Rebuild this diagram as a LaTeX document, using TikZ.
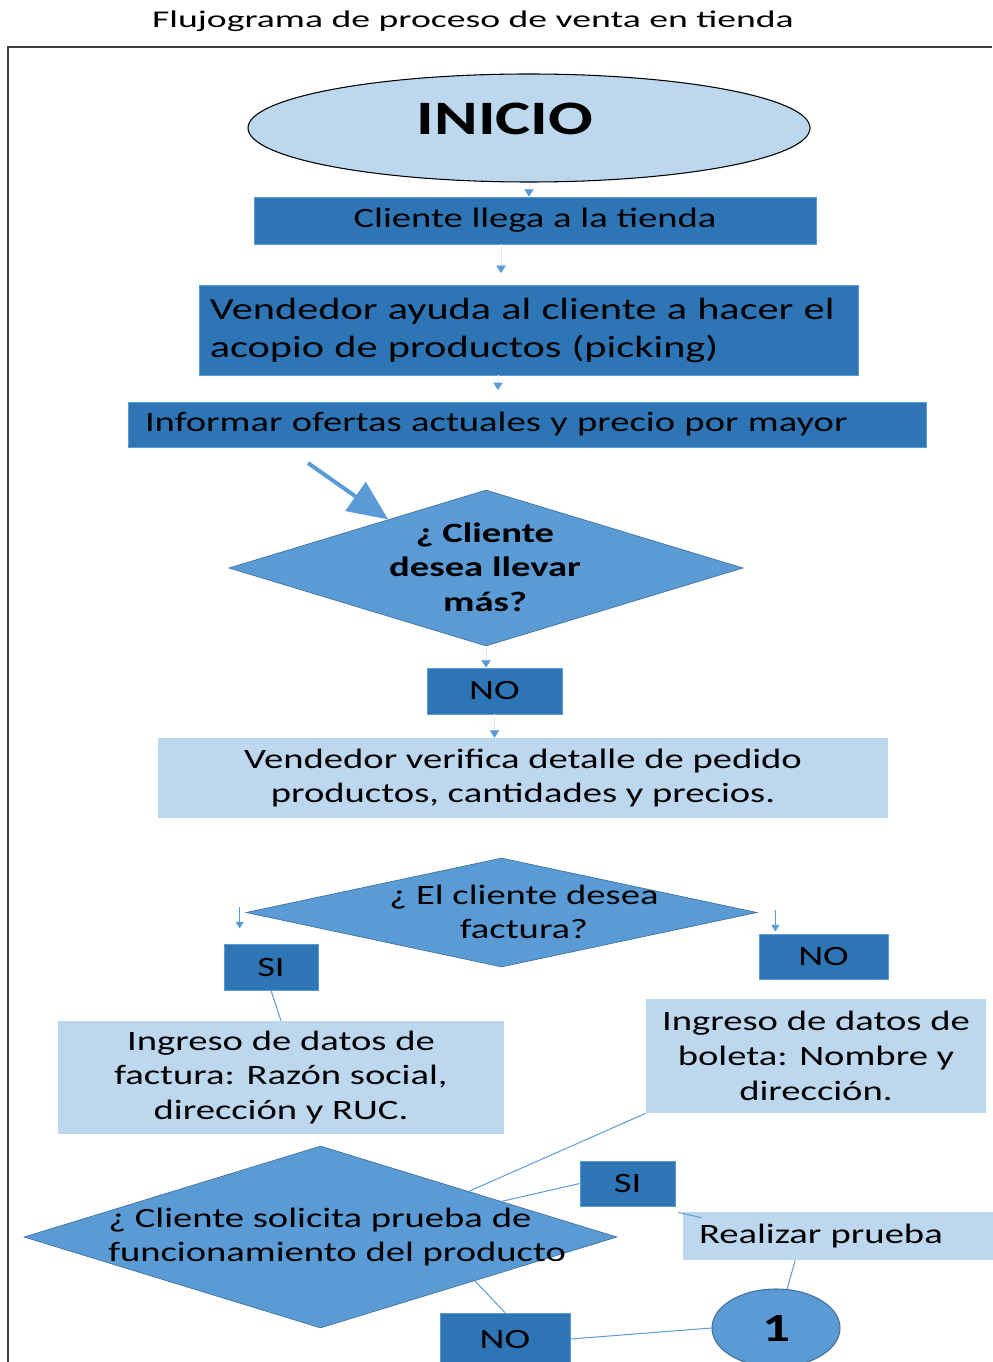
\documentclass[tikz,border=0pt]{standalone}
\usepackage{fontspec}
\setmainfont[FakeStretch=1.38]{Carlito}
\newfontfamily\titlefont[FakeStretch=1.57]{Carlito}
\usepackage{tikz}
\usetikzlibrary{positioning, arrows.meta, shapes.geometric, calc}
\definecolor{boxDark}{RGB}{46,117,182}
\definecolor{boxMid}{RGB}{91,155,213}
\definecolor{boxLight}{RGB}{189,215,238}
\definecolor{edgeDark}{RGB}{65,113,156}
\definecolor{frameGray}{RGB}{64,64,64}

\begin{document}
\begin{tikzpicture}[x=0.75pt, y=-0.75pt,
  dark/.style={rectangle, fill=boxDark, draw=boxMid, line width=0.6pt, inner sep=0pt,
    font=\fontsize{21}{26}\selectfont},
  light/.style={rectangle, fill=boxLight, draw=none, inner sep=0pt, align=center,
    font=\fontsize{21}{26}\selectfont},
  dia/.style={diamond, fill=boxMid, draw=edgeDark, line width=0.5pt, inner sep=0pt},
  txt/.style={inner sep=0pt, align=center, font=\fontsize{21}{26}\selectfont},
  conn/.style={draw=boxMid, line width=0.75pt},
  arrowln/.style={draw=boxMid!20, line width=0.5pt,
    -{Triangle[color=boxMid, width=7pt, length=5.5pt]}},
  arrowvis/.style={draw=boxMid, line width=0.75pt,
    -{Triangle[color=boxMid, width=6pt, length=5pt]}},
  bigarrow/.style={draw=boxMid, line width=3pt,
    -{Triangle[width=26pt, length=30pt]}},
]
  \useasboundingbox (0,0) rectangle (992,1362);

  % title and frame
  \node[font=\titlefont\fontsize{18}{22}\selectfont, anchor=base] (title) at (473,27.5)
    {Flujograma de proceso de venta en tienda};
  \draw[frameGray, line width=1.5pt] (992,47) -- (8,47) -- (8,1362);

  % upper part
  \node[ellipse, fill=boxLight, draw=black, line width=0.8pt, inner sep=0pt,
    minimum width=421.5pt, minimum height=81pt] (inicio) at (529,128) {};
  \node[font=\bfseries\fontsize{36}{40}\selectfont, inner sep=0pt] (inicioTxt) at (505,119) {INICIO};
  \node[dark, minimum width=421.5pt, minimum height=35.25pt] (cli) at (535,220.5)
    {Cliente llega a la tienda};
  \node[dark, align=left, text width=478pt, inner xsep=8.1pt, minimum height=67.5pt,
    font=\fontsize{23}{28.5}\selectfont] (ayu) at (528.5,330)
    {Vendedor ayuda al cliente a hacer el\\acopio de productos (picking)};
  \node[dark, align=left, text width=573pt, inner xsep=12.75pt, minimum height=33.75pt] (inf)
    at (527,424.5) {Informar ofertas actuales y precio por mayor};

  \node[dia, minimum width=385.5pt, minimum height=117pt] (d1) at (486,568) {};
  \node[txt, font=\bfseries\fontsize{21}{26}\selectfont] (d1Txt) at (485,567)
    {¿ Cliente\\desea llevar\\más?};
  \node[dark, minimum width=101.25pt, minimum height=34.5pt] (no1) at (494.5,691) {NO};
  \node[light, minimum width=547.5pt, minimum height=60pt] (ver) at (523,778)
    {Vendedor verifica detalle de pedido\\productos, cantidades y precios.};

  % factura / boleta
  \node[dia, minimum width=383.25pt, minimum height=81.75pt] (d2) at (501.5,912.5) {};
  \node[txt] (d2Txt) at (524,912) {¿ El cliente desea\\factura?};
  \node[dark, minimum width=70.5pt, minimum height=34.5pt] (si1) at (271,967) {SI};
  \node[dark, minimum width=96.75pt, minimum height=33.75pt] (no2) at (823.5,956.5) {NO};
  \node[light, minimum width=334.5pt, minimum height=84.75pt] (fac) at (281,1077.5)
    {Ingreso de datos de\\factura: Razón social,\\dirección y RUC.};
  \node[light, minimum width=255pt, minimum height=85.5pt] (bol) at (816,1056)
    {Ingreso de datos de\\boleta: Nombre y\\dirección.};

  % prueba
  \node[dia, minimum width=444.75pt, minimum height=136.5pt] (d3) at (320.5,1237) {};
  \node[txt, align=left, anchor=west] (d3Txt) at (108,1237)
    {¿ Cliente solicita prueba de\\funcionamiento del producto};
  \node[dark, minimum width=71.25pt, minimum height=33.75pt] (si2) at (627.5,1183.5) {SI};
  \node[light, align=left, text width=210pt, inner xsep=12pt, minimum height=36pt] (rea)
    at (839,1236) {Realizar prueba};
  \node[ellipse, fill=boxMid, draw=edgeDark, line width=0.8pt, inner sep=0pt,
    minimum width=96pt, minimum height=58.5pt,
    font=\bfseries\fontsize{30}{34}\selectfont] (one) at (776,1328) {1};
  \node[dark, minimum width=97.5pt, minimum height=39pt] (no3) at (505,1339) {NO};

  % connectors
  \coordinate (a1) at (501,273);
  \coordinate (a2) at (498,390);
  \coordinate (bigS) at (308,463);
  \draw[arrowln] (inicio.south) -- (inicio.south |- cli.north);
  \draw[arrowln] (cli.south -| a1) -- (a1);
  \draw[arrowln] (ayu.south -| a2) -- (a2);
  \draw[bigarrow] (bigS) -- ($(d1.west)!0.62!(d1.north)$);
  \draw[arrowln] (d1.south) -- (d1.south |- no1.north);
  \draw[arrowln] (no1.south) -- (no1.south |- ver.north);
  \draw[arrowvis] ($(d2.west)+(-6,-6)$) -- ++(0,22);
  \draw[arrowvis] ($(d2.east)+(18,-3)$) -- ++(0,22);
  \draw[conn] (si1.south) -- (fac.north);
  \draw[conn] (bol.south west) -- ($(d3.north)!0.5!(d3.east)$);
  \draw[conn] (si2.west) -- ($(d3.north)!0.61!(d3.east)$);
  \draw[conn] ($(si2.south east)+(3,6)$) -- ($(rea.north west)+(19,6)$);
  \draw[conn] ($(rea.south west)!0.36!(rea.south east)$) -- (one);
  \draw[conn] ($(d3.south)!0.52!(d3.east)$) -- (no3.north);
  \draw[conn] (no3.east) -- (one.west);
\end{tikzpicture}
\end{document}
